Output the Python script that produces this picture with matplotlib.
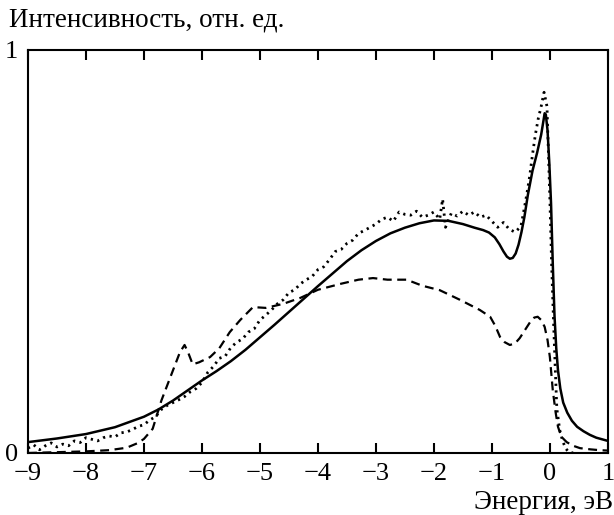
import matplotlib
matplotlib.use('Agg')
import matplotlib.pyplot as plt

plt.rcParams['font.family'] = ['Liberation Serif', 'DejaVu Serif']

#Theory (solid)
calcE = [-9.0, -8.5, -8.0, -7.5, -7.0, -6.75, -6.5, -6.25, -6.0, -5.75, -5.5, -5.25,
         -5.0, -4.75, -4.5, -4.25, -4.0, -3.75, -3.5, -3.25, -3.0, -2.75, -2.5, -2.25,
         -2.0, -1.75, -1.5, -1.3, -1.15, -1.05, -0.95, -0.87, -0.8, -0.74, -0.69,
         -0.64, -0.59, -0.54, -0.49, -0.44, -0.38, -0.3, -0.22, -0.15, -0.11, -0.09,
         -0.07, -0.04, -0.01, 0.02, 0.05, 0.08, 0.11, 0.14, 0.18, 0.23, 0.3, 0.38,
         0.47, 0.58, 0.69, 0.8, 0.9, 1.0]
calcI = [0.027, 0.036, 0.047, 0.064, 0.09, 0.108, 0.13, 0.155, 0.18, 0.203, 0.228, 0.256,
         0.287, 0.318, 0.35, 0.382, 0.414, 0.445, 0.476, 0.503, 0.526, 0.545, 0.559, 0.570,
         0.577, 0.576, 0.568, 0.559, 0.553, 0.547, 0.535, 0.518, 0.500, 0.487, 0.482,
         0.484, 0.495, 0.517, 0.548, 0.585, 0.640, 0.700, 0.745, 0.790, 0.825, 0.843,
         0.840, 0.800, 0.720, 0.620, 0.470, 0.340, 0.260, 0.205, 0.160, 0.125, 0.100, 0.080,
         0.065, 0.054, 0.045, 0.038, 0.034, 0.03]

#Second calc (dashed)
dashE = [-9.0, -8.5, -8.0, -7.6, -7.3, -7.1, -7.0, -6.85, -6.7, -6.5, -6.38, -6.3,
         -6.24, -6.16, -6.05, -5.86, -5.7, -5.52, -5.34, -5.12, -4.9, -4.6, -4.3, -4.0,
         -3.6, -3.3, -3.05, -2.8, -2.47, -2.2, -1.9, -1.55, -1.21, -1.03, -0.94, -0.86,
         -0.78, -0.69, -0.6, -0.52, -0.43, -0.34, -0.27, -0.21, -0.15, -0.09, -0.04, 0.0,
         0.05, 0.1, 0.14, 0.2, 0.29, 0.4, 0.52, 0.7, 0.86, 1.0]
dashI = [0.0, 0.002, 0.004, 0.007, 0.013, 0.025, 0.035, 0.06, 0.13, 0.205, 0.25, 0.268,
         0.25, 0.22, 0.225, 0.238, 0.26, 0.30, 0.33, 0.362, 0.36, 0.37, 0.385, 0.405,
         0.42, 0.43, 0.434, 0.43, 0.43, 0.415, 0.404, 0.38, 0.355, 0.338, 0.315, 0.288,
         0.275, 0.268, 0.272, 0.285, 0.305, 0.325, 0.336, 0.338, 0.33, 0.313, 0.28, 0.238,
         0.156, 0.1, 0.065, 0.04, 0.027, 0.018, 0.012, 0.009, 0.007, 0.006]

#Experiment (dotted)
expE = [-9.0, -8.9, -8.8, -8.7, -8.6, -8.5, -8.4, -8.3, -8.2, -8.1, -8.0, -7.9, -7.8,
        -7.7, -7.6, -7.5, -7.4, -7.3, -7.2, -7.1, -7.0, -6.9, -6.8, -6.7, -6.6, -6.5,
        -6.4, -6.3, -6.2, -6.1, -6.0, -5.9, -5.8, -5.7, -5.6, -5.5, -5.4, -5.3, -5.2,
        -5.1, -5.0, -4.9, -4.8, -4.7, -4.6, -4.5, -4.4, -4.3, -4.2, -4.1, -4.0, -3.9,
        -3.8, -3.7, -3.6, -3.5, -3.4, -3.3, -3.2, -3.1, -3.0, -2.9, -2.8, -2.7, -2.6,
        -2.5, -2.4, -2.3, -2.2, -2.1, -2.0, -1.9, -1.85, -1.8, -1.7, -1.6, -1.5, -1.4,
        -1.3, -1.2, -1.1, -1.0, -0.9, -0.8, -0.7, -0.6, -0.5, -0.45, -0.4, -0.35, -0.3,
        -0.25, -0.2, -0.15, -0.1, -0.05, 0.0, 0.03, 0.06, 0.09, 0.12, 0.17, 0.22, 0.27,
        0.32, 0.4]
expI = [0.012, 0.02, 0.008, 0.018, 0.025, 0.015, 0.022, 0.018, 0.03, 0.026, 0.038, 0.034, 0.03,
        0.038, 0.042, 0.04, 0.05, 0.052, 0.058, 0.066, 0.07, 0.082, 0.09, 0.108, 0.118, 0.125,
        0.132, 0.14, 0.152, 0.16, 0.175, 0.2, 0.215, 0.235, 0.24, 0.262, 0.275, 0.283, 0.3,
        0.308, 0.33, 0.342, 0.355, 0.37, 0.38, 0.398, 0.405, 0.42, 0.43, 0.438, 0.455, 0.462,
        0.48, 0.5, 0.505, 0.52, 0.528, 0.545, 0.552, 0.56, 0.568, 0.58, 0.585, 0.575, 0.598,
        0.592, 0.59, 0.6, 0.585, 0.59, 0.598, 0.58, 0.63, 0.56, 0.595, 0.588, 0.6, 0.59,
        0.598, 0.585, 0.59, 0.575, 0.56, 0.572, 0.555, 0.548, 0.562, 0.6, 0.64, 0.685, 0.74,
        0.79, 0.83, 0.86, 0.895, 0.86, 0.63, 0.47, 0.34, 0.22, 0.11, 0.057, 0.03, 0.012,
        0.003, 0.0]

fig = plt.figure(figsize=(6.14, 5.15), dpi=100)
ax = fig.add_axes([0.0456, 0.1204, 0.9444, 0.7826])

ax.plot(calcE, calcI, color='black', linewidth=1.8)
ax.plot(dashE, dashI, color='black', linewidth=1.6, linestyle=(0, (4, 2.5)))
ax.plot(expE, expI, color='black', linewidth=2.0, linestyle=(0, (0.8, 1.6)))

ax.set_xlim(-9, 1)
ax.set_ylim(0, 1)

ax.set_xticks(range(-9, 2))
ax.set_xticklabels(['\u2212' + str(-v) if v < 0 else str(v) for v in range(-9, 2)])
ax.set_yticks([0, 1])
ax.set_yticklabels(['0', '1'])

ax.tick_params(axis='x', direction='in', length=7, width=1.5, top=True, labelsize=19, pad=7)
ax.tick_params(axis='y', length=0, labelsize=19, pad=7)
for s in ax.spines.values():
    s.set_linewidth(1.5)

fig.text(0.014, 0.962, 'Интенсивность, отн. ед.', fontsize=19.5, va='center', ha='left')
fig.text(0.999, 0.025, 'Энергия, эВ', fontsize=19.5, va='center', ha='right')

fig.savefig('out.png', dpi=100)
